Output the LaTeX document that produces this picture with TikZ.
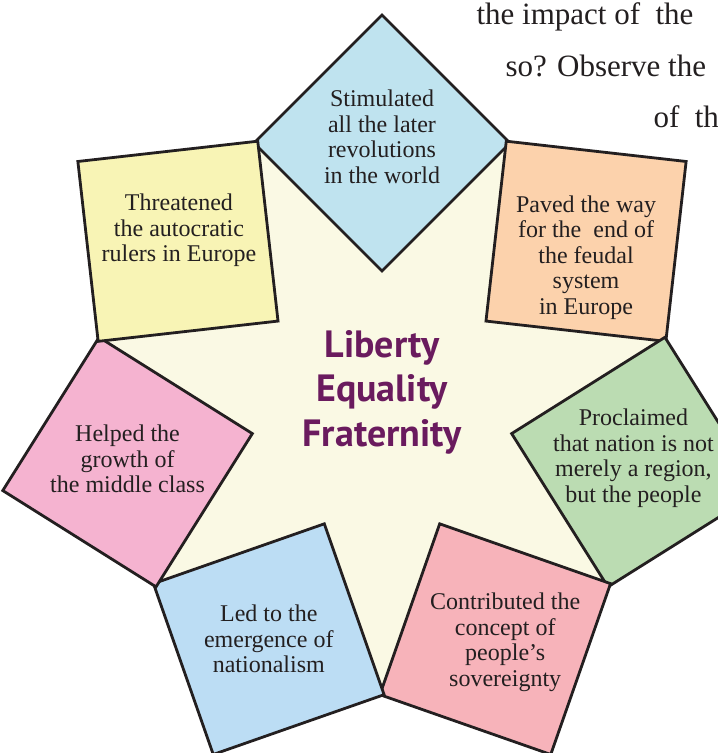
\documentclass[tikz,border=0pt]{standalone}
\usepackage{fontspec}
\setmainfont{Liberation Serif}
\newfontfamily\mottofont{PT Sans}
\usetikzlibrary{shapes.geometric}

\definecolor{mottopurple}{RGB}{106,27,94}
\definecolor{starcream}{RGB}{250,249,228}
\definecolor{inkline}{RGB}{35,31,32}
\definecolor{skyblue}{RGB}{191,227,239}
\definecolor{peach}{RGB}{252,210,172}
\definecolor{sage}{RGB}{187,220,178}
\definecolor{rose}{RGB}{247,179,186}
\definecolor{paleblue}{RGB}{188,221,244}
\definecolor{pink}{RGB}{245,179,208}
\definecolor{lemon}{RGB}{248,244,181}

\begin{document}
\begin{tikzpicture}[x=1pt,y=1pt,
    effect/.style={draw=inkline,line width=2.8pt,regular polygon,regular polygon sides=4,minimum size=256pt,inner sep=0pt},
    effecttext/.style={align=center,text=inkline,font=\fontsize{24}{25.5}\selectfont},
    pagetext/.style={anchor=base west,text=inkline,font=\fontsize{31}{36}\selectfont}
    ]

  \useasboundingbox (0,0) rectangle (718,753);
  \clip (0,0) rectangle (718,753);

  \coordinate (centre) at (382,349);
  \node (star) [regular polygon,regular polygon sides=7,minimum size=580pt,inner sep=0pt,fill=starcream,shape border rotate=180] at (centre) {};

  \node (stimulated) [effect,fill=skyblue,shape border rotate=45] at ([shift={(90:261)}]centre) {};
  \node (paved) [effect,fill=peach,shape border rotate=-6.43] at ([shift={(38.57:261)}]centre) {};
  \node (proclaimed) [effect,fill=sage,shape border rotate=32.14] at ([shift={(-12.86:261)}]centre) {};
  \node (contributed) [effect,fill=rose,shape border rotate=70.71] at ([shift={(-64.29:261)}]centre) {};
  \node (nationalism) [effect,fill=paleblue,shape border rotate=19.29] at ([shift={(-115.71:261)}]centre) {};
  \node (middleclass) [effect,fill=pink,shape border rotate=57.86] at ([shift={(-167.14:261)}]centre) {};
  \node (threatened) [effect,fill=lemon,shape border rotate=6.43] at ([shift={(141.43:261)}]centre) {};

  \node (stimulatedText) [effecttext,yshift=6pt] at (stimulated.center) {Stimulated\\all the later\\revolutions\\in the world};
  \node (pavedText) [effecttext,yshift=-16pt] at (paved.center) {Paved the way\\for the\ \ end of\\the feudal\\system\\in Europe};
  \node (proclaimedText) [effecttext,xshift=-3pt,yshift=4pt] at (proclaimed.center) {Proclaimed\\that nation is not\\merely a region,\\but the people};
  \node (contributedText) [effecttext,xshift=10pt,yshift=-3pt] at (contributed.center) {Contributed the\\concept of\\people’s\\sovereignty};
  \node (nationalismText) [effecttext] at (nationalism.center) {Led to the\\emergence of\\nationalism};
  \node (middleclassText) [effecttext,yshift=3pt] at (middleclass.center) {Helped the\\growth of\\the middle class};
  \node (threatenedText) [effecttext,xshift=1pt,yshift=11pt] at (threatened.center) {Threatened\\the autocratic\\rulers in Europe};

  \node (motto) [align=center,text=mottopurple,font=\mottofont\bfseries\fontsize{38}{44.5}\selectfont] at (382,361) {Liberty\\Equality\\Fraternity};

  \node (pageLineA) [pagetext] at (473,728) {the impact of\ \ the};
  \node (pageLineB) [pagetext] at (502,676) {so? Observe the};
  \node (pageLineC) [pagetext] at (650,625) {of\ \ th};

\end{tikzpicture}
\end{document}
